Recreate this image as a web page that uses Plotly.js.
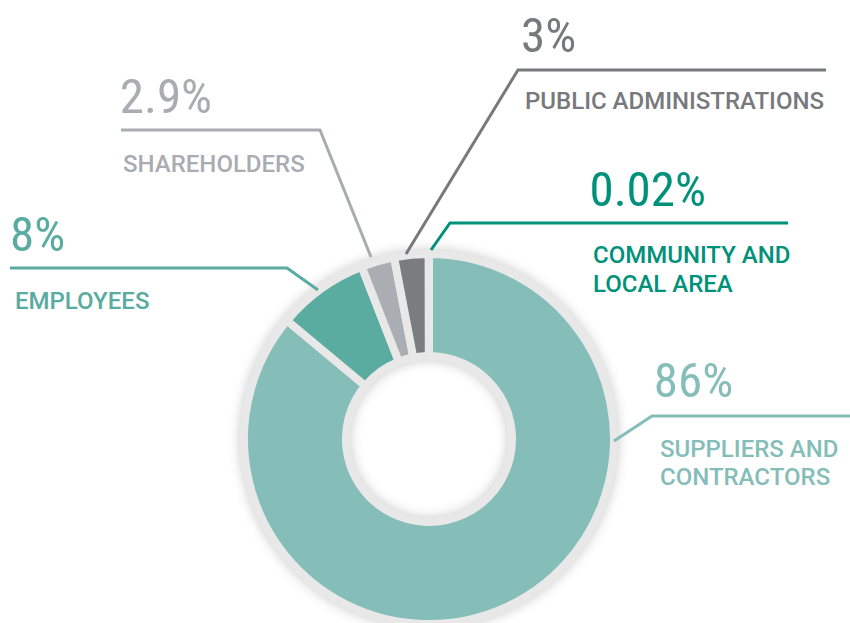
<!DOCTYPE html>
<html>
<head>
<meta charset="utf-8">
<script src="https://cdn.plot.ly/plotly-3.0.1.min.js"></script>
<style>
  html, body { margin: 0; padding: 0; background: #ffffff; overflow: hidden; }
  #chart { width: 850px; height: 640px; }
  .pielayer { filter: drop-shadow(0px 0px 6px rgba(0,0,0,0.22)); }
  .annotation[data-index="0"] text, .annotation[data-index="1"] text,
  .annotation[data-index="2"] text, .annotation[data-index="3"] text,
  .annotation[data-index="4"] text { font-stretch: condensed !important; }
</style>
</head>
<body>
<div id="chart"></div>
<script>
// ---- data ----
const categories = ['SUPPLIERS AND<br>CONTRACTORS', 'EMPLOYEES', 'SHAREHOLDERS', 'PUBLIC ADMINISTRATIONS', 'COMMUNITY AND<br>LOCAL AREA'];
const values = [86, 8, 2.9, 3, 0.02];
const valueLabels = ['86%', '8%', '2.9%', '3%', '0.02%'];
const sliceColors = ['#85bdb9', '#5aaba0', '#aaadb2', '#797d80', '#00917a'];
const textColors  = ['#85bdb9', '#5aaba0', '#a9acb1', '#77797c', '#00917a'];

// ---- layout helpers (pixel -> paper) ----
const W = 850, H = 640;
const X = x => x / W;
const Y = y => (H - y) / H;

// label placement (pixels): value text left/center-y, label left/center-y, leader path
const placement = [
  { vx: 646, vy: 380, lx: 658, ly: 448.5, path: [[614,441],[652,416],[850,416]] },
  { vx: 4,   vy: 234, lx: 13,  ly: 301,   path: [[10,268],[287,268],[318,290]] },
  { vx: 112, vy: 96,  lx: 121, ly: 164,   path: [[121,130],[320,130],[371,257]] },
  { vx: 515, vy: 35,  lx: 523, ly: 101,   path: [[406,254],[518,70],[826,70]] },
  { vx: 580, vy: 189, lx: 591, ly: 255.5, path: [[431,250],[450,223],[788,223]] }
];
const lineHeight = 28;

const valueAnnotations = [];
const labelAnnotations = [];
const shapes = [];
categories.forEach((cat, i) => {
  const p = placement[i];
  valueAnnotations.push({
    xref: 'paper', yref: 'paper', x: X(p.vx), y: Y(p.vy),
    xanchor: 'left', yanchor: 'middle', showarrow: false,
    text: valueLabels[i],
    font: { family: 'Roboto, sans-serif', size: 49, weight: 400, color: textColors[i] }
  });
  cat.split('<br>').forEach((line, j) => {
    labelAnnotations.push({
      xref: 'paper', yref: 'paper', x: X(p.lx), y: Y(p.ly + j * lineHeight),
      xanchor: 'left', yanchor: 'middle', showarrow: false,
      text: line,
      font: { family: 'Roboto, sans-serif', size: 24, weight: 500, color: textColors[i] }
    });
  });
  const d = p.path.map((pt, k) => (k === 0 ? 'M ' : 'L ') + X(pt[0]) + ' ' + Y(pt[1])).join(' ');
  shapes.push({
    type: 'path', xref: 'paper', yref: 'paper', path: d,
    line: { color: textColors[i], width: 3 }, layer: 'above'
  });
});

const trace = {
  type: 'pie',
  labels: categories,
  values: values,
  sort: false,
  direction: 'clockwise',
  rotation: 0,
  hole: 0.449,
  textinfo: 'none',
  hoverinfo: 'none',
  showlegend: false,
  marker: { colors: sliceColors, line: { color: '#e8e8e8', width: 8 } },
  domain: { x: [X(244), X(614)], y: [Y(624), Y(254)] }
};

const layout = {
  width: W, height: H,
  margin: { l: 0, r: 0, t: 0, b: 0 },
  paper_bgcolor: '#ffffff',
  plot_bgcolor: '#ffffff',
  showlegend: false,
  annotations: valueAnnotations.concat(labelAnnotations),
  shapes: shapes
};

Plotly.newPlot('chart', [trace], layout, { displayModeBar: false, staticPlot: true });
</script>
</body>
</html>
